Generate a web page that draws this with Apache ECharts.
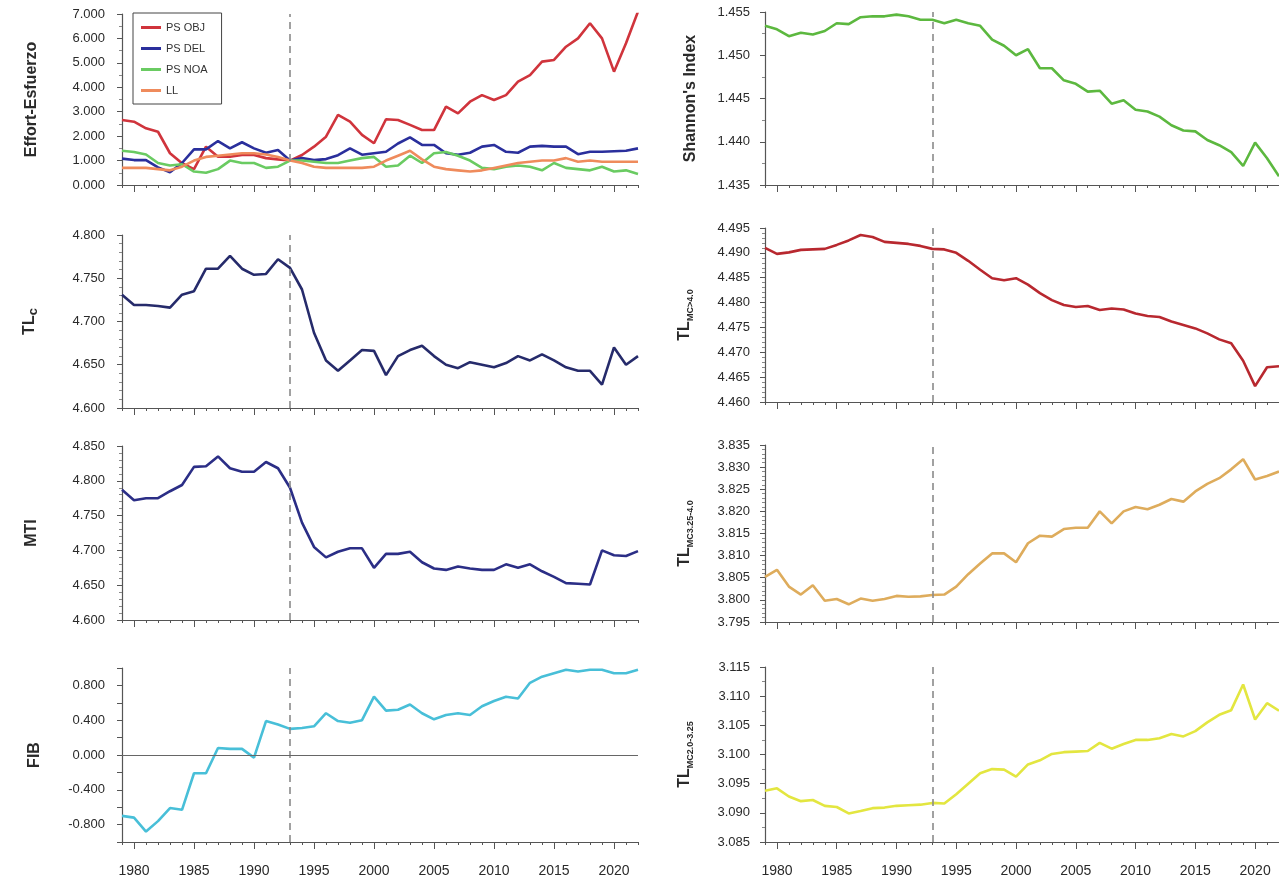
<!DOCTYPE html>
<html>
<head>
<meta charset="utf-8">
<script src="https://cdn.jsdelivr.net/npm/echarts@6/dist/echarts.min.js"></script>
<style>
html,body{margin:0;padding:0;background:#fff;}
#c{width:1279px;height:878px;}
</style>
</head>
<body>
<div id="c"></div>
<script>
const years = [1979,1980,1981,1982,1983,1984,1985,1986,1987,1988,1989,1990,1991,1992,1993,1994,1995,1996,1997,1998,1999,2000,2001,2002,2003,2004,2005,2006,2007,2008,2009,2010,2011,2012,2013,2014,2015,2016,2017,2018,2019,2020,2021,2022];
const majorYears = [1980,1985,1990,1995,2000,2005,2010,2015,2020];
const refYear = 1993;

const psObj = [2.66,2.59,2.32,2.18,1.30,0.89,0.65,1.57,1.16,1.16,1.23,1.23,1.10,1.05,1.00,1.23,1.57,1.98,2.87,2.59,2.05,1.71,2.69,2.66,2.46,2.25,2.25,3.21,2.93,3.41,3.68,3.48,3.68,4.23,4.50,5.05,5.12,5.66,6.00,6.62,6.00,4.64,5.80,7.10];
const psDel = [1.08,1.02,1.02,0.72,0.52,0.90,1.46,1.46,1.80,1.50,1.75,1.50,1.32,1.43,1.00,1.10,1.02,1.06,1.22,1.50,1.24,1.30,1.36,1.70,1.95,1.64,1.64,1.30,1.24,1.32,1.57,1.64,1.36,1.32,1.57,1.60,1.57,1.57,1.26,1.36,1.36,1.38,1.40,1.50];
const psNoa = [1.40,1.35,1.25,0.90,0.80,0.85,0.55,0.50,0.65,1.00,0.90,0.90,0.70,0.75,1.00,1.00,0.95,0.90,0.90,1.00,1.10,1.15,0.75,0.80,1.20,0.90,1.30,1.35,1.20,1.00,0.70,0.65,0.75,0.80,0.75,0.60,0.90,0.70,0.65,0.60,0.75,0.55,0.60,0.45];
const ll = [0.70,0.70,0.70,0.65,0.60,0.75,1.00,1.15,1.20,1.25,1.30,1.30,1.25,1.15,1.00,0.90,0.75,0.70,0.70,0.70,0.70,0.75,1.00,1.20,1.40,1.05,0.75,0.65,0.60,0.55,0.60,0.70,0.80,0.90,0.95,1.00,1.00,1.10,0.95,1.00,0.95,0.95,0.95,0.95];
const tlc = [4.731,4.719,4.719,4.718,4.716,4.731,4.735,4.761,4.761,4.776,4.761,4.754,4.755,4.772,4.762,4.737,4.687,4.655,4.643,4.655,4.667,4.666,4.638,4.660,4.667,4.672,4.660,4.650,4.646,4.653,4.650,4.647,4.652,4.660,4.655,4.662,4.655,4.647,4.643,4.643,4.627,4.670,4.650,4.660];
const mti = [4.787,4.772,4.775,4.775,4.785,4.794,4.820,4.821,4.835,4.818,4.813,4.813,4.827,4.818,4.790,4.740,4.705,4.690,4.698,4.703,4.703,4.675,4.695,4.695,4.698,4.683,4.674,4.672,4.677,4.674,4.672,4.672,4.680,4.675,4.680,4.670,4.662,4.653,4.652,4.651,4.700,4.693,4.692,4.699];
const fib = [-0.70,-0.72,-0.88,-0.76,-0.61,-0.63,-0.21,-0.21,0.08,0.07,0.07,-0.03,0.39,0.35,0.30,0.31,0.33,0.48,0.39,0.37,0.40,0.67,0.51,0.52,0.58,0.48,0.41,0.46,0.48,0.46,0.56,0.62,0.67,0.65,0.83,0.90,0.94,0.98,0.96,0.98,0.98,0.94,0.94,0.98];
const shannon = [1.4534,1.4530,1.4522,1.4526,1.4524,1.4528,1.4537,1.4536,1.4544,1.4545,1.4545,1.4547,1.4545,1.4541,1.4541,1.4537,1.4541,1.4537,1.4534,1.4518,1.4511,1.4500,1.4507,1.4485,1.4485,1.4471,1.4467,1.4458,1.4459,1.4444,1.4448,1.4437,1.4435,1.4429,1.4419,1.4413,1.4412,1.4402,1.4396,1.4388,1.4372,1.4399,1.4381,1.4360];
const tlMc40 = [4.4910,4.4898,4.4901,4.4906,4.4907,4.4908,4.4916,4.4925,4.4936,4.4932,4.4922,4.4920,4.4918,4.4914,4.4908,4.4907,4.4900,4.4884,4.4866,4.4849,4.4845,4.4849,4.4836,4.4819,4.4805,4.4795,4.4791,4.4793,4.4785,4.4788,4.4786,4.4778,4.4773,4.4771,4.4762,4.4755,4.4748,4.4738,4.4726,4.4718,4.4683,4.4632,4.4670,4.4672];
const tlMc325 = [3.8052,3.8068,3.8030,3.8012,3.8033,3.7998,3.8002,3.7990,3.8003,3.7998,3.8002,3.8009,3.8007,3.8008,3.8011,3.8012,3.8030,3.8058,3.8082,3.8105,3.8105,3.8085,3.8128,3.8145,3.8143,3.8160,3.8163,3.8163,3.8200,3.8173,3.8200,3.8210,3.8205,3.8215,3.8228,3.8222,3.8245,3.8262,3.8275,3.8295,3.8318,3.8272,3.8280,3.8290];
const tlMc20 = [3.0938,3.0942,3.0928,3.0920,3.0922,3.0912,3.0910,3.0899,3.0903,3.0908,3.0909,3.0912,3.0913,3.0914,3.0917,3.0916,3.0932,3.0950,3.0968,3.0975,3.0974,3.0962,3.0983,3.0990,3.1001,3.1004,3.1005,3.1006,3.1020,3.1010,3.1018,3.1025,3.1025,3.1028,3.1035,3.1031,3.1040,3.1055,3.1068,3.1076,3.1120,3.1060,3.1088,3.1075];

const FONT = '"Liberation Sans", Arial, sans-serif';
const AX = '#555';
const TXT = '#2a2a2a';

const grids = [
  {left:122, top:14,  width:516, height:171},
  {left:122, top:235, width:516, height:173},
  {left:122, top:446, width:516, height:174},
  {left:122, top:668, width:516, height:174},
  {left:765, top:12,  width:516, height:173},
  {left:765, top:228, width:516, height:174},
  {left:765, top:445, width:516, height:177},
  {left:765, top:667, width:516, height:175}
];
const bottomRow = [3,7];

const xAxes = [];
grids.forEach((g,i)=>{
  xAxes.push({type:'value', gridIndex:i, min:1979, max:2022, interval:1, position:'bottom',
    axisLine:{show:true, onZero:false, lineStyle:{color:AX, width:1.2}},
    axisTick:{show:true, length:3, lineStyle:{color:AX, width:1}},
    axisLabel:{show:false}, splitLine:{show:false}});
  xAxes.push({type:'value', gridIndex:i, min:1979, max:2022, interval:1, position:'bottom',
    axisLine:{show:false, onZero:false},
    axisTick:{show:true, length:7, customValues:majorYears, lineStyle:{color:AX, width:1}},
    axisLabel:{show: bottomRow.includes(i), customValues:majorYears, margin:22, fontSize:14, color:TXT, fontFamily:FONT,
      formatter: v => String(v)},
    splitLine:{show:false}});
});

function yAx(i, min, max, interval, minorSplit, nameRich, nameGap, margin, fmt){
  return {type:'value', gridIndex:i, min:min, max:max, interval:interval,
    axisLine:{show:true, onZero:false, lineStyle:{color:AX, width:1.2}},
    axisTick:{show:true, length:5, lineStyle:{color:AX}},
    minorTick:{show: minorSplit>1, splitNumber:minorSplit, length:3, lineStyle:{color:'#888'}},
    splitLine:{show:false}, minorSplitLine:{show:false},
    axisLabel:{fontSize:13, color:TXT, fontFamily:FONT, margin:margin,
      formatter: fmt || (v=>v.toFixed(3))},
    name:nameRich, nameLocation:'middle', nameRotate:90, nameGap:nameGap,
    nameTextStyle:{fontSize:16, fontWeight:'bold', color:TXT, fontFamily:FONT,
      rich:{
        b:{fontSize:16, fontWeight:'bold', color:TXT, fontFamily:FONT, lineHeight:20},
        c:{fontSize:13, fontWeight:'bold', color:TXT, fontFamily:FONT, verticalAlign:'bottom', lineHeight:17},
        s:{fontSize:9, fontWeight:'bold', color:TXT, fontFamily:FONT, verticalAlign:'bottom', lineHeight:14}
      }}
  };
}
const fibFmt = v => { const k = v/0.4; return (Math.abs(k-Math.round(k))<1e-6 && Math.abs(v)<0.95) ? v.toFixed(3) : ''; };

const yAxes = [
  yAx(0, 0, 7, 1, 2, 'Effort-Esfuerzo', 82, 17),
  yAx(1, 4.6, 4.8, 0.05, 5, '{b|TL}{c|c}', 82, 17),
  yAx(2, 4.6, 4.85, 0.05, 5, 'MTI', 82, 17),
  yAx(3, -1.0, 1.0, 0.2, 1, 'FIB', 79, 17, fibFmt),
  yAx(4, 1.435, 1.455, 0.005, 2, "Shannon's Index", 66, 15),
  yAx(5, 4.46, 4.495, 0.005, 5, '{b|TL}{s|MC>4.0}', 70, 15),
  yAx(6, 3.795, 3.835, 0.005, 5, '{b|TL}{s|MC3.25-4.0}', 70, 15),
  yAx(7, 3.085, 3.115, 0.005, 2, '{b|TL}{s|MC2.0-3.25}', 70, 15)
];

function pairs(arr){ return years.map((y,k)=>[y, arr[k]]); }
function mk(extra){
  const d = [{xAxis:refYear}];
  if (extra) d.push(extra);
  return {silent:true, symbol:'none', animation:false, label:{show:false},
    lineStyle:{type:[7,5], color:'#8a8a8a', width:1.6}, data:d};
}
function line(name, arr, gi, color, withMark, extra){
  const s = {name:name, type:'line', xAxisIndex:gi*2, yAxisIndex:gi, data:pairs(arr),
    showSymbol:false, symbol:'none', smooth:false, animation:false,
    lineStyle:{color:color, width:2.6}, itemStyle:{color:color}, z:3};
  if (withMark) s.markLine = mk(extra);
  return s;
}

const series = [
  line('PS OBJ', psObj, 0, '#d0343c', true),
  line('PS DEL', psDel, 0, '#2a2f9c', false),
  line('PS NOA', psNoa, 0, '#6acb62', false),
  line('LL', ll, 0, '#ef8b5c', false),
  line('TLc', tlc, 1, '#262b6b', true),
  line('MTI', mti, 2, '#2b2e86', true),
  line('FIB', fib, 3, '#48bfd8', true, {yAxis:0, lineStyle:{type:'solid', color:'#666', width:1.2}}),
  line("Shannon's Index", shannon, 4, '#5cb83f', true),
  line('TL MC>4.0', tlMc40, 5, '#b8282f', true),
  line('TL MC3.25-4.0', tlMc325, 6, '#deac5c', true),
  line('TL MC2.0-3.25', tlMc20, 7, '#e3e640', true)
];

const chart = echarts.init(document.getElementById('c'), null, {renderer:'canvas'});
chart.setOption({
  backgroundColor:'#ffffff',
  animation:false,
  textStyle:{fontFamily:FONT},
  grid:grids,
  xAxis:xAxes,
  yAxis:yAxes,
  legend:{
    data:['PS OBJ','PS DEL','PS NOA','LL'],
    orient:'vertical', left:133, top:13,
    icon:'rect', itemWidth:20, itemHeight:3, itemGap:10,
    padding:[9,14,8,8],
    borderColor:'#444', borderWidth:1,
    textStyle:{fontSize:11, color:'#333', fontFamily:FONT},
    selectedMode:false
  },
  series:series
});
</script>
</body>
</html>
